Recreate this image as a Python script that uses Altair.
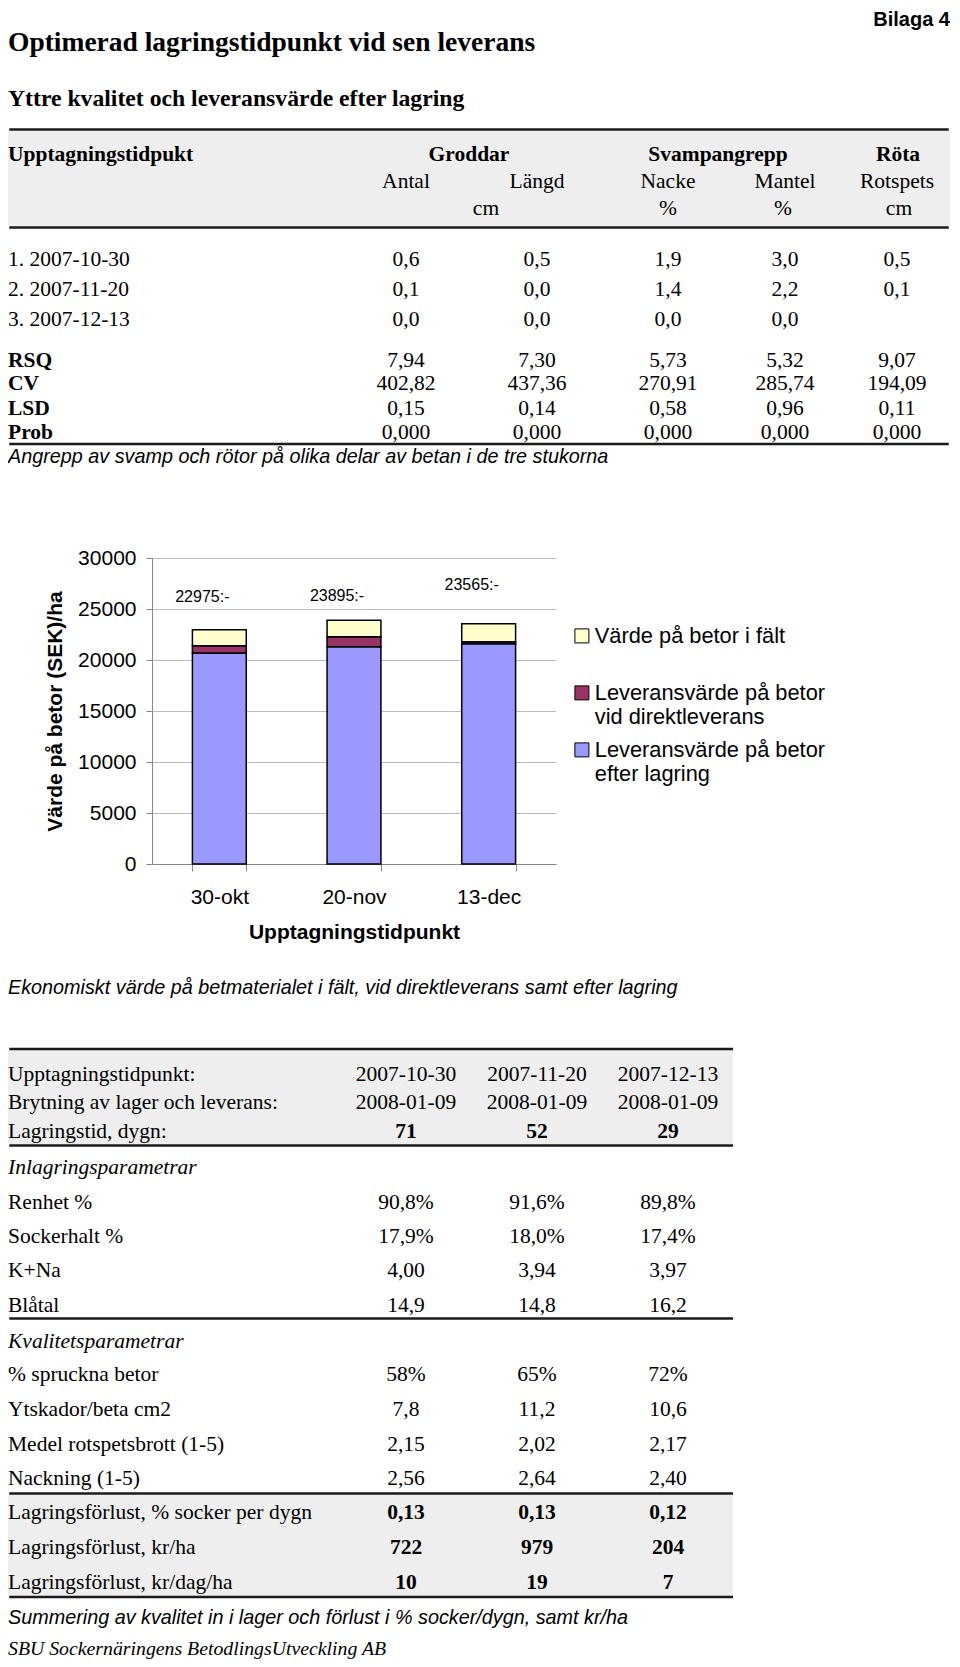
import altair as alt
import pandas as pd

# ---------------- data ----------------
appendix = "Bilaga 4"
page_title = "Optimerad lagringstidpunkt vid sen leverans"
subtitle = "Yttre kvalitet och leveransvärde efter lagring"

t1_header = "Upptagningstidpukt"
t1_groups = ["Groddar", "Svampangrepp", "Röta"]
t1_columns = ["Antal", "Längd", "Nacke", "Mantel", "Rotspets"]
t1_units = ["cm", "%", "%", "cm"]
t1_row_labels = ["1. 2007-10-30", "2. 2007-11-20", "3. 2007-12-13"]
t1_row1 = ["0,6", "0,5", "1,9", "3,0", "0,5"]
t1_row2 = ["0,1", "0,0", "1,4", "2,2", "0,1"]
t1_row3 = ["0,0", "0,0", "0,0", "0,0", ""]
t1_stat_labels = ["RSQ", "CV", "LSD", "Prob"]
t1_rsq = ["7,94", "7,30", "5,73", "5,32", "9,07"]
t1_cv = ["402,82", "437,36", "270,91", "285,74", "194,09"]
t1_lsd = ["0,15", "0,14", "0,58", "0,96", "0,11"]
t1_prob = ["0,000", "0,000", "0,000", "0,000", "0,000"]
caption1 = "Angrepp av svamp och rötor på olika delar av betan i de tre stukorna"

dates = ["30-okt", "20-nov", "13-dec"]
series_names = ["Värde på betor i fält",
                "Leveransvärde på betor vid direktleverans",
                "Leveransvärde på betor efter lagring"]
series_colors = ["#FFFFCC", "#993366", "#9999FF"]
after_storage_value = [20680, 21300, 21590]
direct_delivery_part = [722, 979, 204]
field_value_part = [1573, 1616, 1771]
total_labels = ["22975:-", "23895:-", "23565:-"]
total_label_levels = [26200, 26300, 27400]
y_title = "Värde på betor (SEK)/ha"
x_title = "Upptagningstidpunkt"
caption2 = "Ekonomiskt värde på betmaterialet i fält, vid direktleverans samt efter lagring"

t2_head_labels = ["Upptagningstidpunkt:", "Brytning av lager och leverans:", "Lagringstid, dygn:"]
t2_harvest = ["2007-10-30", "2007-11-20", "2007-12-13"]
t2_break = ["2008-01-09", "2008-01-09", "2008-01-09"]
t2_days = ["71", "52", "29"]
t2_section1 = "Inlagringsparametrar"
t2_in_labels = ["Renhet %", "Sockerhalt %", "K+Na", "Blåtal"]
t2_renhet = ["90,8%", "91,6%", "89,8%"]
t2_socker = ["17,9%", "18,0%", "17,4%"]
t2_kna = ["4,00", "3,94", "3,97"]
t2_blatal = ["14,9", "14,8", "16,2"]
t2_section2 = "Kvalitetsparametrar"
t2_q_labels = ["% spruckna betor", "Ytskador/beta cm2", "Medel rotspetsbrott (1-5)", "Nackning (1-5)"]
t2_spruckna = ["58%", "65%", "72%"]
t2_ytskador = ["7,8", "11,2", "10,6"]
t2_rotspets = ["2,15", "2,02", "2,17"]
t2_nackning = ["2,56", "2,64", "2,40"]
t2_loss_labels = ["Lagringsförlust, % socker per dygn", "Lagringsförlust, kr/ha", "Lagringsförlust, kr/dag/ha"]
t2_loss_pct = ["0,13", "0,13", "0,12"]
t2_loss_krha = ["722", "979", "204"]
t2_loss_krdag = ["10", "19", "7"]
caption3 = "Summering av kvalitet in i lager och förlust i % socker/dygn, samt kr/ha"
footer = "SBU Sockernäringens BetodlingsUtveckling AB"

# ---------------- layout (page pixels) ----------------
PAGE_L, PAGE_R = 8, 950
PLOT_L, PLOT_T, PLOT_W, PLOT_H = 152, 558, 404, 306
A_TOP = 8
C_TOP = PLOT_T + PLOT_H
C_BOT = 1659
PANEL_W = PAGE_R - PLOT_L

SERIF, SANS = "Liberation Serif", "Liberation Sans"
STY = {
    "sb_l": (SERIF, "bold", "normal", "left"),
    "sb_c": (SERIF, "bold", "normal", "center"),
    "sr_l": (SERIF, "normal", "normal", "left"),
    "sr_c": (SERIF, "normal", "normal", "center"),
    "si_l": (SERIF, "normal", "italic", "left"),
    "ai_l": (SANS, "normal", "italic", "left"),
    "ab_r": (SANS, "bold", "normal", "right"),
}
TAB = 21.5
CAP = 19.8


def panel(items, bands, rules, y0, y1):
    xs = alt.Scale(domain=[PLOT_L, PLOT_L + PANEL_W], nice=False, zero=False)
    ys = alt.Scale(domain=[y0, y1], nice=False, zero=False, reverse=True)
    df = pd.DataFrame(items, columns=["t", "x", "y", "k", "s"])
    layers = []
    if bands:
        bdf = pd.DataFrame(bands, columns=["x", "x2", "y", "y2"])
        layers.append(alt.Chart(bdf).mark_rect(color="#EEEEEE").encode(
            x=alt.X("x:Q", scale=xs, axis=None), x2="x2:Q",
            y=alt.Y("y:Q", scale=ys, axis=None), y2="y2:Q"))
    if rules:
        rdf = pd.DataFrame(rules, columns=["x", "x2", "y"])
        layers.append(alt.Chart(rdf).mark_rule(color="#1a1a1a", strokeWidth=2.5).encode(
            x=alt.X("x:Q", scale=xs, axis=None), x2="x2:Q",
            y=alt.Y("y:Q", scale=ys, axis=None)))
    for key, (font, weight, style, align) in STY.items():
        sub = df[df.k == key]
        if len(sub) == 0:
            continue
        layers.append(alt.Chart(sub).mark_text(
            font=font, fontWeight=weight, fontStyle=style, align=align,
            baseline="middle", color="black").encode(
            x=alt.X("x:Q", scale=xs, axis=None),
            y=alt.Y("y:Q", scale=ys, axis=None),
            text="t:N",
            size=alt.Size("s:Q", scale=None, legend=None)))
    return alt.layer(*layers).properties(width=PANEL_W, height=y1 - y0)


# ---------- panel A : header + table 1 ----------
T1_COLS = [406, 537, 668, 785, 897]
A = []
A.append((appendix, PAGE_R, 20, "ab_r", 20))
A.append((page_title, PAGE_L, 43, "sb_l", 27.5))
A.append((subtitle, PAGE_L, 99, "sb_l", 23.7))
A.append((t1_header, PAGE_L, 155, "sb_l", TAB))
for g, cx in zip(t1_groups, [469, 718, 898]):
    A.append((g, cx, 155, "sb_c", TAB))
for c, cx in zip(t1_columns, T1_COLS):
    A.append((c, cx, 182, "sr_c", TAB))
for u, cx in zip(t1_units, [486, 668, 783, 899]):
    A.append((u, cx, 209, "sr_c", TAB))
for lab, vals, ry in zip(t1_row_labels, [t1_row1, t1_row2, t1_row3], [260, 290, 320]):
    A.append((lab, PAGE_L, ry, "sr_l", TAB))
    for v, cx in zip(vals, T1_COLS):
        A.append((v, cx, ry, "sr_c", TAB))
for lab, vals, ry in zip(t1_stat_labels, [t1_rsq, t1_cv, t1_lsd, t1_prob], [360.5, 384, 408.5, 433]):
    A.append((lab, PAGE_L, ry, "sb_l", TAB))
    for v, cx in zip(vals, T1_COLS):
        A.append((v, cx, ry, "sr_c", TAB))
A.append((caption1, PAGE_L, 457, "ai_l", CAP))
bands_A = [(PAGE_L, PAGE_R, 131, 226)]
rules_A = [(PAGE_L + 1.25, PAGE_R - 1.25, 129.5), (PAGE_L + 1.25, PAGE_R - 1.25, 227.5),
           (PAGE_L + 1.25, PAGE_R - 1.25, 444)]
panelA = panel(A, bands_A, rules_A, A_TOP, PLOT_T)

# ---------- panel B : stacked bar chart ----------
bars_df = pd.DataFrame({
    "date": dates * 3,
    "series": [series_names[2]] * 3 + [series_names[1]] * 3 + [series_names[0]] * 3,
    "value": after_storage_value + direct_delivery_part + field_value_part,
    "ord": [0] * 3 + [1] * 3 + [2] * 3,
})
lab_df = pd.DataFrame({"date": dates, "lab": total_labels, "lvl": total_label_levels})

xenc = alt.X("date:N", sort=dates, title=x_title,
             scale=alt.Scale(paddingInner=0.6, paddingOuter=0.3),
             axis=alt.Axis(labelAngle=0, labelFont=SANS, labelFontSize=21, labelColor="black",
                           labelPadding=15, tickSize=7, tickColor="#888888", domainColor="#888888",
                           tickBand="extent", grid=False, titleFont=SANS, titleFontSize=21,
                           titleFontWeight="bold", titleColor="black", titlePadding=14))
bars = alt.Chart(bars_df).mark_bar(stroke="black", strokeWidth=1.5).encode(
    x=xenc,
    y=alt.Y("value:Q", stack="zero", title=y_title,
            scale=alt.Scale(domain=[0, 30000], nice=False),
            axis=alt.Axis(values=[0, 5000, 10000, 15000, 20000, 25000, 30000], format="d",
                          labelFont=SANS, labelFontSize=21, labelColor="black", labelPadding=10,
                          tickSize=6, tickColor="#888888", domainColor="#888888",
                          gridColor="#BBBBBB", titleFont=SANS, titleFontSize=21,
                          titleFontWeight="bold", titleColor="black", titlePadding=12)),
    color=alt.Color("series:N", sort=series_names,
                    scale=alt.Scale(domain=series_names, range=series_colors),
                    legend=alt.Legend(title=None, orient="none", legendX=419, legendY=617,
                                      symbolType="square", symbolSize=196,
                                      symbolStrokeColor="black", symbolStrokeWidth=1,
                                      labelFont=SANS, labelFontSize=21.8, labelColor="black",
                                      labelLimit=400, labelOffset=2, rowPadding=10,
                                      labelExpr="length(datum.label) > 25 ? [substring(datum.label, 0, 22), substring(datum.label, 23)] : [datum.label, '']")),
    order=alt.Order("ord:Q", sort="ascending"),
)
labels = alt.Chart(lab_df).mark_text(font=SANS, fontSize=16, dx=-17, color="black").encode(
    x=alt.X("date:N", sort=dates),
    y=alt.Y("lvl:Q"),
    text="lab:N",
)
panelB = alt.layer(bars, labels).properties(width=PLOT_W, height=PLOT_H)

# ---------- panel C : table 2 ----------
T2_COLS = [406, 537, 668]
C = []
C.append((caption2, PAGE_L, 988, "ai_l", CAP))
for lab, vals, ry, key in zip(t2_head_labels, [t2_harvest, t2_break, t2_days], [1075, 1103, 1132],
                              ["sr_c", "sr_c", "sb_c"]):
    C.append((lab, PAGE_L, ry, "sr_l", TAB))
    for v, cx in zip(vals, T2_COLS):
        C.append((v, cx, ry, key, TAB))
C.append((t2_section1, PAGE_L, 1168, "si_l", TAB))
for lab, vals, ry in zip(t2_in_labels, [t2_renhet, t2_socker, t2_kna, t2_blatal], [1203, 1237, 1271, 1306]):
    C.append((lab, PAGE_L, ry, "sr_l", TAB))
    for v, cx in zip(vals, T2_COLS):
        C.append((v, cx, ry, "sr_c", TAB))
C.append((t2_section2, PAGE_L, 1342, "si_l", TAB))
for lab, vals, ry in zip(t2_q_labels, [t2_spruckna, t2_ytskador, t2_rotspets, t2_nackning],
                         [1375, 1410, 1445, 1479]):
    C.append((lab, PAGE_L, ry, "sr_l", TAB))
    for v, cx in zip(vals, T2_COLS):
        C.append((v, cx, ry, "sr_c", TAB))
for lab, vals, ry in zip(t2_loss_labels, [t2_loss_pct, t2_loss_krha, t2_loss_krdag], [1513, 1548, 1583]):
    C.append((lab, PAGE_L, ry, "sr_l", TAB))
    for v, cx in zip(vals, T2_COLS):
        C.append((v, cx, ry, "sb_c", TAB))
C.append((caption3, PAGE_L, 1618, "ai_l", CAP))
C.append((footer, PAGE_L, 1649, "si_l", CAP))
T2_R = 733
bands_C = [(PAGE_L, T2_R, 1050, 1144), (PAGE_L, T2_R, 1495, 1596)]
rules_C = [(PAGE_L + 1.25, T2_R, y) for y in [1049, 1145.5, 1318.5, 1493.5, 1597]]
panelC = panel(C, bands_C, rules_C, C_TOP, C_BOT)

chart = alt.vconcat(panelA, panelB, panelC, spacing=0, bounds="flush").properties(
    padding=0, background="white"
).configure_view(strokeWidth=0)

chart.save("out.html", embed_options={"renderer": "svg", "actions": False})
